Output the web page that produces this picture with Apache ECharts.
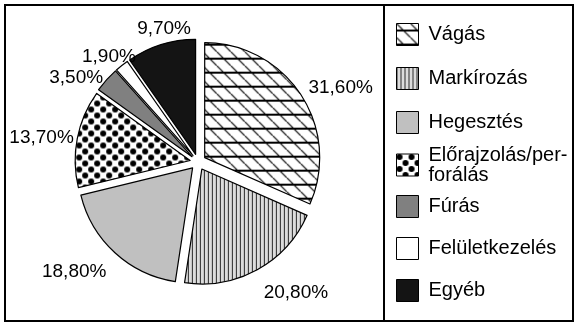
<!DOCTYPE html>
<html>
<head>
<meta charset="utf-8">
<script src="https://cdn.jsdelivr.net/npm/echarts@6/dist/echarts.min.js"></script>
<style>
html,body{margin:0;padding:0;background:#fff;}
#chart{width:578px;height:326px;}
</style>
</head>
<body>
<div id="chart"></div>
<script>
// ---- data ----
const categories = ['Vágás', 'Markírozás', 'Hegesztés', 'Előrajzolás/perforálás', 'Fúrás', 'Felületkezelés', 'Egyéb'];
const legendLabels = ['Vágás', 'Markírozás', 'Hegesztés', 'Előrajzolás/per-\nforálás', 'Fúrás', 'Felületkezelés', 'Egyéb'];
const values = [31.6, 20.8, 18.8, 13.7, 3.5, 1.9, 9.7];

// ---- style ----
const CX = 198, CY = 162, PIE_R = 115, OFFSET = 8;
const labelGap = [-1, 16, 12, -12, -5, -9, -1];
const labelTurn = [0, -2.7, 0, 0, -2.2, 3.1, 5.4];
const FONT = '"Liberation Sans", Arial, sans-serif';

function makeTile(w, h, draw) {
  const c = document.createElement('canvas');
  c.width = w; c.height = h;
  const ctx = c.getContext('2d');
  draw(ctx, w, h);
  return { image: c, repeat: 'repeat' };
}
const patVagas = makeTile(14, 14, (ctx, w, h) => {
  ctx.fillStyle = '#fff'; ctx.fillRect(0, 0, w, h);
  ctx.strokeStyle = '#000';
  ctx.lineWidth = 2;
  ctx.beginPath(); ctx.moveTo(0, 7); ctx.lineTo(w, 7); ctx.stroke();
  ctx.lineWidth = 1.2;
  ctx.beginPath(); ctx.moveTo(-2, -2); ctx.lineTo(w + 2, h + 2); ctx.stroke();
});
const patMark = makeTile(4, 4, (ctx, w, h) => {
  ctx.fillStyle = '#dcdcdc'; ctx.fillRect(0, 0, w, h);
  ctx.fillStyle = '#2a2a2a'; ctx.fillRect(0, 0, 1, h);
});
const patDots = makeTile(12, 12, (ctx, w, h) => {
  ctx.fillStyle = '#fff'; ctx.fillRect(0, 0, w, h);
  ctx.fillStyle = '#000';
  [[3, 3], [9, 9]].forEach(p => { ctx.beginPath(); ctx.arc(p[0], p[1], 3, 0, Math.PI * 2); ctx.fill(); });
});
const fills = [patVagas, patMark, '#c0c0c0', patDots, '#808080', '#ffffff', '#141414'];

const total = values.reduce((a, b) => a + b, 0);
const cum = [];
values.reduce((acc, v, i) => { cum[i] = acc; return acc + v; }, 0);

const pieData = categories.map((name, i) => ({
  name, value: values[i], selected: true,
  itemStyle: { color: fills[i] }
}));
const labelData = categories.map((name, i) => ({ name, value: values[i] }));

const chart = echarts.init(document.getElementById('chart'), null, { renderer: 'canvas' });

const legendCommon = {
  orient: 'vertical', left: 396, padding: 0, icon: 'rect',
  itemWidth: 22, itemHeight: 22,
  itemStyle: { borderColor: '#000', borderWidth: 1 },
  selectedMode: false,
  textStyle: { fontFamily: FONT, fontSize: 20, color: '#000', lineHeight: 20, padding: [0, 0, 0, 5] },
  formatter: name => legendLabels[categories.indexOf(name)]
};

chart.setOption({
  animation: false,
  backgroundColor: '#fff',
  graphic: [
    { type: 'rect', shape: { x: 5, y: 5, width: 568, height: 316 }, style: { fill: 'none', stroke: '#000', lineWidth: 2 }, silent: true },
    { type: 'line', shape: { x1: 384, y1: 5, x2: 384, y2: 321 }, style: { stroke: '#000', lineWidth: 2 }, silent: true }
  ],
  legend: [
    Object.assign({}, legendCommon, { top: 23, itemGap: 21, data: categories.slice(0, 3) }),
    Object.assign({}, legendCommon, { top: 145, itemGap: 20, data: categories.slice(3, 4) }),
    Object.assign({}, legendCommon, { top: 195, itemGap: 19, data: categories.slice(4) })
  ],
  series: [
    {
      type: 'pie', center: [CX, CY], radius: PIE_R, startAngle: 90, clockwise: true,
      selectedMode: 'multiple', selectedOffset: OFFSET,
      avoidLabelOverlap: false,
      itemStyle: { borderColor: '#000', borderWidth: 1.2 },
      select: { itemStyle: { borderColor: '#000', borderWidth: 1.2 } },
      emphasis: { disabled: true },
      label: { show: false }, labelLine: { show: false },
      data: pieData
    },
    {
      type: 'pie', center: [CX, CY], radius: PIE_R, startAngle: 90, clockwise: true,
      silent: true, avoidLabelOverlap: false,
      itemStyle: { color: 'rgba(0,0,0,0)', borderWidth: 0 },
      emphasis: { disabled: true },
      label: {
        show: true, position: 'outside', fontFamily: FONT, fontSize: 19, color: '#000',
        formatter: p => p.value.toFixed(2).replace('.', ',') + '%'
      },
      labelLine: { show: false },
      labelLayout: function (p) {
        const i = p.dataIndex;
        const a = (cum[i] + values[i] / 2) / total * Math.PI * 2 + labelTurn[i] * Math.PI / 180;
        const dx = Math.sin(a), dy = -Math.cos(a);
        const w = p.labelRect.width, h = p.labelRect.height;
        const d = PIE_R + OFFSET + labelGap[i];
        return {
          x: CX + dx * d + 1.5 * dx * w / 2,
          y: CY + dy * d + 1.5 * dy * h / 2,
          align: 'center', verticalAlign: 'middle'
        };
      },
      data: labelData
    }
  ]
});
</script>
</body>
</html>
